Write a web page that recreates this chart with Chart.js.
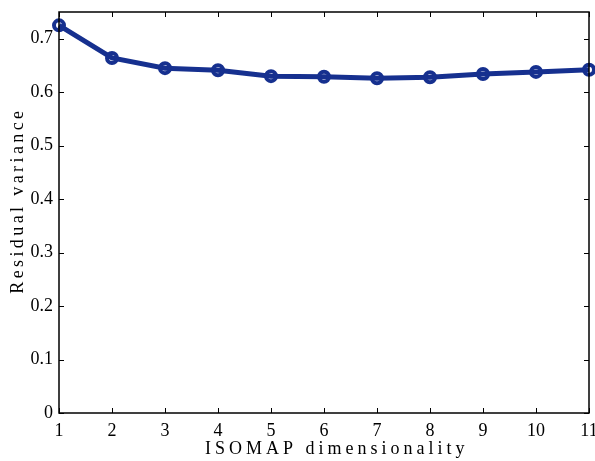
<!DOCTYPE html>
<html>
<head>
<meta charset="UTF-8">
<title>Residual variance</title>
<script src="https://cdn.jsdelivr.net/npm/chart.js"></script>
<style>
  html, body { margin: 0; padding: 0; background: #fff; }
  #chart { display: block; }
</style>
</head>
<body>
<canvas id="chart" width="595" height="461"></canvas>
<script>
// data
const dims = [1, 2, 3, 4, 5, 6, 7, 8, 9, 10, 11];
const residual = [0.725, 0.664, 0.645, 0.641, 0.630, 0.629, 0.626, 0.628, 0.634, 0.638, 0.642];

const lineColor = '#16308f';
const serif = '"Liberation Serif", "DejaVu Serif", serif';
const xTitle = '\u00a0\u00a0\u00a0ISOMAP dimensionality';
const yTitle = '\u00a0\u00a0\u00a0Residual variance';

// axis titles are set wide in the original; ticks are not
const spacingPlugin = {
  id: 'spacing',
  beforeDraw(chart) {
    const ctx = chart.ctx;
    if (ctx._spaced) return;
    const orig = ctx.fillText.bind(ctx);
    ctx.fillText = function (text, x, y, w) {
      const prev = ctx.letterSpacing;
      ctx.letterSpacing = text === xTitle ? '4px' : text === yTitle ? '3.4px' : '0px';
      orig(text, x, y, w);
      ctx.letterSpacing = prev;
    };
    ctx._spaced = true;
  }
};

// box around plot + inward ticks on all four sides
const boxPlugin = {
  id: 'box',
  afterDatasetsDraw(chart) {
    const { ctx, chartArea: a, scales } = chart;
    ctx.save();
    ctx.strokeStyle = '#000';
    ctx.lineWidth = 1.5;
    ctx.strokeRect(a.left, a.top, a.right - a.left, a.bottom - a.top);
    ctx.lineWidth = 1;
    const len = 5;
    ctx.beginPath();
    scales.x.ticks.forEach(t => {
      const px = Math.round(scales.x.getPixelForValue(t.value)) + 0.5;
      ctx.moveTo(px, a.bottom); ctx.lineTo(px, a.bottom - len);
      ctx.moveTo(px, a.top); ctx.lineTo(px, a.top + len);
    });
    scales.y.ticks.forEach(t => {
      const py = Math.round(scales.y.getPixelForValue(t.value)) + 0.5;
      ctx.moveTo(a.left, py); ctx.lineTo(a.left + len, py);
      ctx.moveTo(a.right, py); ctx.lineTo(a.right - len, py);
    });
    ctx.stroke();
    ctx.restore();
  }
};

new Chart(document.getElementById('chart'), {
  type: 'line',
  data: {
    datasets: [{
      data: dims.map((d, i) => ({ x: d, y: residual[i] })),
      borderColor: lineColor,
      borderWidth: 5,
      pointRadius: 5,
      pointBorderWidth: 4,
      pointBackgroundColor: 'rgba(0,0,0,0)',
      pointBorderColor: lineColor,
      tension: 0,
      clip: false
    }]
  },
  options: {
    responsive: false,
    animation: false,
    layout: { autoPadding: false, padding: { top: 12, right: 6, left: 0, bottom: 0 } },
    plugins: { legend: { display: false }, tooltip: { enabled: false } },
    scales: {
      x: {
        type: 'linear',
        min: 1, max: 11,
        grid: { display: false, drawTicks: false },
        border: { display: false },
        ticks: { stepSize: 1, padding: 7, color: '#000', font: { family: serif, size: 18 } },
        title: {
          display: true, text: xTitle, color: '#000',
          font: { family: serif, size: 18 }, padding: { top: 0, bottom: 1 }
        },
        afterFit(s) { s.paddingLeft = 0; s.paddingRight = 0; s.height = 48; }
      },
      y: {
        min: 0, max: 0.75,
        grid: { display: false, drawTicks: false },
        border: { display: false },
        ticks: { stepSize: 0.1, includeBounds: false, padding: 6, color: '#000', font: { family: serif, size: 18 } },
        title: {
          display: true, text: yTitle, color: '#000',
          font: { family: serif, size: 18 }, padding: { top: 7, bottom: 0 }
        },
        afterFit(s) { s.paddingTop = 0; s.paddingBottom = 0; s.width = 59; }
      }
    }
  },
  plugins: [spacingPlugin, boxPlugin]
});
</script>
</body>
</html>
